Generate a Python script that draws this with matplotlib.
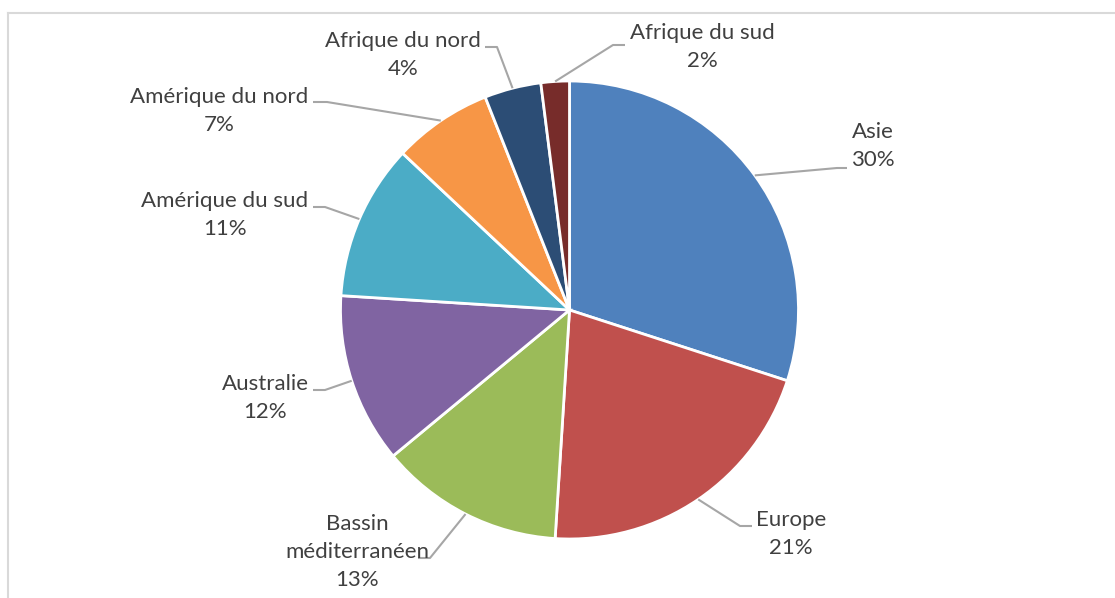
import numpy as np
import matplotlib.pyplot as plt

# data ----
regions = ["Asie", "Europe", "Bassin\nméditerranéen", "Australie",
           "Amérique du sud", "Amérique du nord", "Afrique du nord", "Afrique du sud"]
shares = [30, 21, 13, 12, 11, 7, 4, 2]
colors = ["#4F81BD", "#C0504D", "#9BBB59", "#8064A2",
          "#4BACC6", "#F79646", "#2C4D75", "#772C2A"]

# label layout (pixel coords, y from top): text centre, elbow, end of leader
label_pos = [(873, 146), (791, 534), (357, 552), (265, 398),
             (225, 215), (219, 111), (403, 55), (702, 47)]
elbows = [(837, 168), (740, 526), (430, 558), (325, 390),
          (325, 207), (327, 102), (497, 47), (613, 45)]
ends = [(847, 168), (752, 526), (418, 558), (313, 390),
        (313, 207), (313, 102), (485, 47), (625, 45)]

W, H = 1115, 598
fig = plt.figure(figsize=(W / 100, H / 100), dpi=100)
ax = fig.add_axes([0, 0, 1, 1])

cx, cy, r = 569.5, H - 310, 229
wedges, _ = ax.pie(shares, colors=colors, startangle=90, counterclock=False,
                   center=(cx, cy), radius=r,
                   wedgeprops=dict(edgecolor="white", linewidth=2))

# pie() resets the limits, so set them afterwards
ax.set_xlim(0, W)
ax.set_ylim(0, H)
ax.set_aspect("equal")
ax.axis("off")

# labels with leader lines
for w, name, val, (tx, ty), (ex, ey), (fx, fy) in zip(wedges, regions, shares,
                                                       label_pos, elbows, ends):
    ang = np.deg2rad((w.theta1 + w.theta2) / 2)
    px, py = cx + r * np.cos(ang), cy + r * np.sin(ang)
    ax.plot([px, ex, fx], [py, H - ey, H - fy], color="#A6A6A6", lw=1.5,
            solid_capstyle="butt", zorder=1)
    ax.text(tx, H - ty, f"{name}\n{val}%", ha="center", va="center",
            fontsize=16, family="Lato", color="#404040", linespacing=1.47)

# chart frame (top and left edges visible)
ax.plot([8, W], [H - 13, H - 13], color="#D9D9D9", lw=1.5, clip_on=False)
ax.plot([8, 8], [H - 13, 0], color="#D9D9D9", lw=1.5, clip_on=False)

fig.savefig("out.png", dpi=100)
